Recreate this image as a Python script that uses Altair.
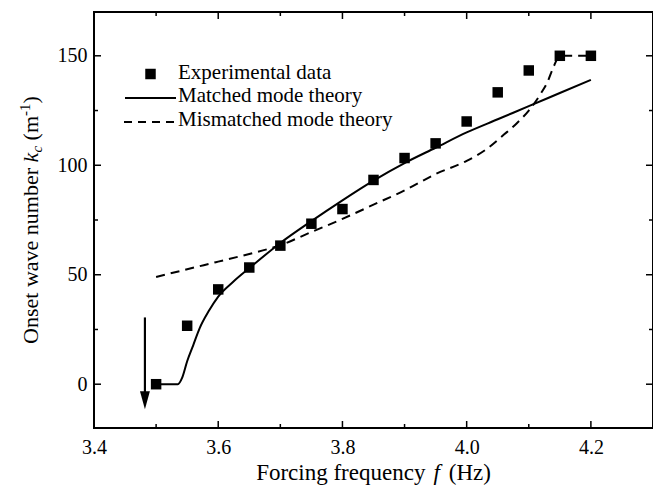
import altair as alt
import pandas as pd

# ---------------- data ----------------
exp_f = [3.50, 3.55, 3.60, 3.65, 3.70, 3.75, 3.80, 3.85, 3.90, 3.95, 4.00, 4.05, 4.10, 4.15, 4.20]
exp_k = [0, 26.7, 43.3, 53.3, 63.3, 73.3, 80, 93.3, 103.3, 110, 120, 133.3, 143.3, 150, 150]

matched_f = [3.50, 3.535, 3.542, 3.55, 3.56, 3.57, 3.585, 3.60, 3.625, 3.65, 3.70, 3.75,
             3.80, 3.85, 3.90, 3.95, 4.00, 4.05, 4.10, 4.15, 4.20]
matched_k = [0, 0, 3, 10.5, 18, 25.5, 33.5, 40, 47, 53, 64.5, 74.5,
             84, 93, 101, 108, 115, 121, 127, 133, 139]

mismatched_f = [3.50, 3.55, 3.60, 3.65, 3.70, 3.75, 3.80, 3.85, 3.90, 3.95, 4.00, 4.03,
                4.06, 4.08, 4.10, 4.12, 4.13, 4.14, 4.15, 4.20]
mismatched_k = [49, 52.5, 56, 59.5, 63.5, 69.5, 75.5, 82, 88.5, 96, 102, 107,
                114, 119, 125, 133, 138, 145, 150, 150]

arrow_f = [3.482]
arrow_top = [30.5]
arrow_shaft_end = [-4]
arrow_head_k = [-7.3]

x_major = [3.4, 3.6, 3.8, 4.0, 4.2]
x_minor = [3.5, 3.7, 3.9, 4.1]
y_major = [0, 50, 100, 150]
y_minor = [25, 75, 125]

legend_labels = ["Experimental data", "Matched mode theory", "Mismatched mode theory"]

# ---------------- styling ----------------
FONT = "Liberation Serif"
W, H = 559, 416

x_enc = alt.X(
    "f:Q",
    scale=alt.Scale(domain=[3.4, 4.3], nice=False, zero=False),
    axis=alt.Axis(values=x_major, format=".1f", title=None, ticks=False, tickSize=0,
                  domain=False, grid=False, labelFont=FONT, labelFontSize=20,
                  labelColor="black", labelPadding=9, labelFlush=False, labelOverlap=False),
)
y_enc = alt.Y(
    "k:Q",
    scale=alt.Scale(domain=[-20, 170], nice=False, zero=False),
    axis=alt.Axis(values=y_major, format="d", title=None, ticks=False, tickSize=0,
                  domain=False, grid=False, labelFont=FONT, labelFontSize=20,
                  labelColor="black", labelPadding=7, labelFlush=False, labelOverlap=False),
)

layers = []

# data marks
df_exp = pd.DataFrame({"f": exp_f, "k": exp_k})
df_m = pd.DataFrame({"f": matched_f, "k": matched_k})
df_mm = pd.DataFrame({"f": mismatched_f, "k": mismatched_k})

layers.append(alt.Chart(df_m).mark_line(color="black", strokeWidth=2, interpolate="monotone")
              .encode(x=x_enc, y=y_enc))
layers.append(alt.Chart(df_mm).mark_line(color="black", strokeWidth=2, strokeDash=[9, 6],
                                         interpolate="monotone")
              .encode(x=x_enc, y=y_enc))
layers.append(alt.Chart(df_exp).mark_point(shape="square", filled=True, color="black",
                                           size=110, opacity=1)
              .encode(x=x_enc, y=y_enc))

# arrow
df_arrow = pd.DataFrame({"f": arrow_f, "k": arrow_top, "k2": arrow_shaft_end})
layers.append(alt.Chart(df_arrow).mark_rule(color="black", strokeWidth=2.2)
              .encode(x=x_enc, y=y_enc, y2="k2:Q"))
df_head = pd.DataFrame({"f": arrow_f, "k": arrow_head_k})
layers.append(alt.Chart(df_head).mark_point(shape="M -0.55 -1 L 0.55 -1 L 0 1 Z", filled=True,
                                            size=324, color="black", opacity=1)
              .encode(x=x_enc, y=y_enc))

# inward ticks on all four sides
def xticks(vals, y1, y2):
    return alt.Chart(pd.DataFrame({"f": vals})).mark_rule(color="black", strokeWidth=1.5).encode(
        x=x_enc, y=alt.value(y1), y2=alt.value(y2))

def yticks(vals, x1, x2):
    return alt.Chart(pd.DataFrame({"k": vals})).mark_rule(color="black", strokeWidth=1.5).encode(
        y=y_enc, x=alt.value(x1), x2=alt.value(x2))

layers += [
    xticks(x_major, H, H - 7), xticks(x_major, 0, 7),
    xticks(x_minor, H, H - 4), xticks(x_minor, 0, 4),
    yticks(y_major, 0, 7), yticks(y_major, W, W - 7),
    yticks(y_minor, 0, 4), yticks(y_minor, W, W - 4),
]

# legend (drawn by hand)
one = pd.DataFrame({"t": [0]})
layers.append(alt.Chart(one).mark_point(shape="square", filled=True, color="black", size=110, opacity=1)
              .encode(x=alt.value(56.5), y=alt.value(62)))
layers.append(alt.Chart(one).mark_rule(color="black", strokeWidth=2)
              .encode(x=alt.value(31), x2=alt.value(82), y=alt.value(86)))
layers.append(alt.Chart(one).mark_rule(color="black", strokeWidth=2, strokeDash=[8, 6])
              .encode(x=alt.value(30), x2=alt.value(82), y=alt.value(110)))
for lbl, yb in zip(legend_labels, [67, 90, 114]):
    layers.append(alt.Chart(pd.DataFrame({"label": [lbl]}))
                  .mark_text(font=FONT, fontSize=21, color="black", align="left", baseline="alphabetic")
                  .encode(text="label:N", x=alt.value(84), y=alt.value(yb)))

# axis titles built from pieces (italic, sub/superscript)
def txt(s, x, y, size=22, style="normal", angle=0, align="left"):
    return (alt.Chart(pd.DataFrame({"s": [s]}))
            .mark_text(font=FONT, fontSize=size, fontStyle=style, color="black", align=align,
                       baseline="alphabetic", angle=angle)
            .encode(text="s:N", x=alt.value(x), y=alt.value(y)))

XB = 468
layers += [
    txt("Forcing frequency", 331.4, XB, size=23, align="right"),
    txt("f", 339.4, XB, size=23, style="italic"),
    txt("(Hz)", 354.8, XB, size=23),
]

YB = -56
layers += [
    txt("Onset wave number", YB, 331.9, angle=270),
    txt("k", YB, 150.4, style="italic", angle=270),
    txt("c", YB + 4, 140.6, size=15, style="italic", angle=270),
    txt("(m", YB, 128.4, angle=270),
    txt("-1", YB - 8, 104.0, size=15, angle=270),
    txt(")", YB, 91.5, angle=270),
]

chart = (
    alt.layer(*layers)
    .properties(width=W, height=H, autosize=alt.AutoSizeParams(type="none"),
                padding={"left": 86, "top": 4, "right": 0, "bottom": 60})
    .configure_view(stroke="black", strokeWidth=2)
)

chart.save("out.html", embed_options={"renderer": "svg", "actions": False})
